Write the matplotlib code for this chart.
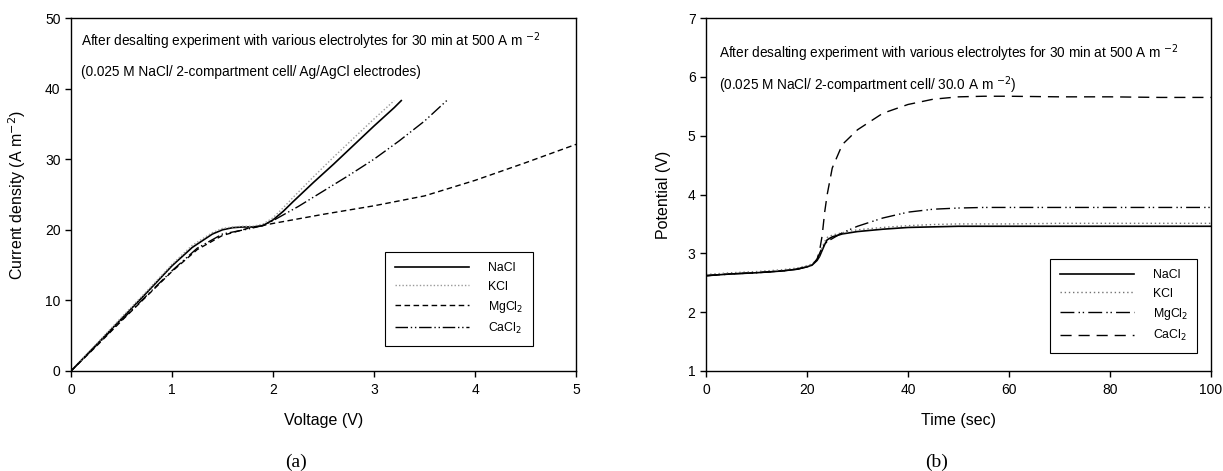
import numpy as np
import matplotlib
matplotlib.use('Agg')
import matplotlib.pyplot as plt

plt.rcParams['font.family'] = ['Liberation Sans', 'DejaVu Sans']

# (a) current density vs voltage
v_nacl = [0, 0.25, 0.5, 0.75, 1.0, 1.2, 1.4, 1.5, 1.6, 1.7, 1.8, 1.9, 2.0, 2.1, 2.2, 2.4, 2.6, 2.8, 3.0, 3.2, 3.27]
i_nacl = [0, 3.7, 7.4, 11.1, 14.9, 17.5, 19.4, 20.0, 20.3, 20.4, 20.4, 20.6, 21.4, 22.6, 24.0, 26.7, 29.3, 32.0, 34.7, 37.3, 38.3]
v_kcl = [0, 0.25, 0.5, 0.75, 1.0, 1.2, 1.4, 1.5, 1.6, 1.7, 1.8, 1.9, 2.0, 2.1, 2.2, 2.4, 2.6, 2.8, 3.0, 3.2]
i_kcl = [0, 3.8, 7.6, 11.3, 15.1, 17.8, 19.6, 20.2, 20.4, 20.5, 20.5, 20.8, 21.7, 23.1, 24.6, 27.5, 30.3, 33.0, 35.7, 38.3]
v_mg = [0, 0.25, 0.5, 0.75, 1.0, 1.25, 1.5, 1.75, 2.0, 2.5, 3.0, 3.5, 4.0, 4.5, 5.0]
i_mg = [0, 3.5, 7.1, 10.6, 14.1, 17.2, 19.2, 20.2, 20.9, 22.2, 23.4, 24.8, 27.0, 29.5, 32.1]
v_ca = [0, 0.25, 0.5, 0.75, 1.0, 1.25, 1.5, 1.75, 1.9, 2.0, 2.25, 2.5, 2.75, 3.0, 3.25, 3.5, 3.72]
i_ca = [0, 3.6, 7.2, 10.7, 14.2, 17.4, 19.4, 20.1, 20.6, 21.3, 23.3, 25.5, 27.7, 30.0, 32.6, 35.4, 38.3]

# (b) potential vs time
t = [0, 5, 10, 15, 18, 20, 21, 22, 22.5, 23, 23.5, 24, 25, 27, 30, 35, 40, 45, 50, 55, 60, 70, 80, 90, 100]
p_nacl = [2.62, 2.65, 2.67, 2.70, 2.73, 2.77, 2.80, 2.88, 2.95, 3.05, 3.15, 3.23, 3.28, 3.33, 3.37, 3.41, 3.44, 3.45, 3.46, 3.46, 3.46, 3.46, 3.46, 3.46, 3.46]
p_kcl = [2.64, 2.67, 2.69, 2.72, 2.75, 2.79, 2.82, 2.90, 2.98, 3.10, 3.20, 3.27, 3.31, 3.35, 3.40, 3.44, 3.47, 3.49, 3.50, 3.50, 3.50, 3.51, 3.51, 3.51, 3.51]
p_mg = [2.62, 2.65, 2.67, 2.70, 2.73, 2.77, 2.80, 2.90, 3.00, 3.10, 3.15, 3.20, 3.25, 3.35, 3.46, 3.60, 3.70, 3.75, 3.77, 3.78, 3.78, 3.78, 3.78, 3.78, 3.78]
p_ca = [2.62, 2.65, 2.67, 2.70, 2.73, 2.77, 2.80, 2.90, 3.05, 3.30, 3.70, 4.00, 4.45, 4.85, 5.10, 5.38, 5.53, 5.62, 5.66, 5.67, 5.67, 5.66, 5.66, 5.65, 5.65]

fig = plt.figure(figsize=(12.23, 4.71), dpi=100)
ax1 = fig.add_axes([71/1223, 100/471, 505/1223, 353/471])
ax2 = fig.add_axes([706/1223, 100/471, 505/1223, 353/471])

ax1.plot(v_nacl, i_nacl, color='black', lw=1.2, label='NaCl')
ax1.plot(v_kcl, i_kcl, color='0.6', lw=1.0, ls=(0, (1, 1.5)), label='KCl')
ax1.plot(v_mg, i_mg, color='black', lw=1.0, ls=(0, (4, 2.5)), label='MgCl$_2$')
ax1.plot(v_ca, i_ca, color='black', lw=1.0, ls=(0, (9, 2, 1, 2, 1, 2)), label='CaCl$_2$')

ax2.plot(t, p_nacl, color='black', lw=1.2, label='NaCl')
ax2.plot(t, p_kcl, color='0.45', lw=1.0, ls=(0, (1, 2)), label='KCl')
ax2.plot(t, p_mg, color='black', lw=1.0, ls=(0, (10, 3, 1, 2, 1, 3)), label='MgCl$_2$')
ax2.plot(t, p_ca, color='black', lw=1.0, ls=(0, (8, 5)), label='CaCl$_2$')

ax1.set_xlim(0, 5)
ax1.set_ylim(0, 50)
ax1.set_xticks([0, 1, 2, 3, 4, 5])
ax1.set_yticks([0, 10, 20, 30, 40, 50])
ax2.set_xlim(0, 100)
ax2.set_ylim(1, 7)
ax2.set_xticks([0, 20, 40, 60, 80, 100])
ax2.set_yticks([1, 2, 3, 4, 5, 6, 7])

for ax in (ax1, ax2):
    ax.tick_params(direction='out', length=4, width=1, labelsize=10)
    ax.tick_params(axis='x', pad=5)
    for s in ax.spines.values():
        s.set_linewidth(1.0)

ax1.set_xlabel('Voltage (V)', fontsize=11.5)
ax1.set_ylabel('Current density (A m$^{-2}$)', fontsize=11.5)
ax1.xaxis.set_label_coords(0.5, -0.12)
ax1.yaxis.set_label_coords(-0.085, 0.5)
ax2.set_xlabel('Time (sec)', fontsize=11.5)
ax2.set_ylabel('Potential (V)', fontsize=11.5)
ax2.xaxis.set_label_coords(0.5, -0.12)
ax2.yaxis.set_label_coords(-0.07, 0.5)

ax1.text(0.1, 46.7, 'After desalting experiment with various electrolytes for 30 min at 500 A m $^{-2}$',
         fontsize=9.8, va='center')
ax1.text(0.1, 42.3, '(0.025 M NaCl/ 2-compartment cell/ Ag/AgCl electrodes)', fontsize=9.8, va='center')
ax2.text(2.6, 6.4, 'After desalting experiment with various electrolytes for 30 min at 500 A m $^{-2}$',
         fontsize=9.8, va='center')
ax2.text(2.6, 5.86, '(0.025 M NaCl/ 2-compartment cell/ 30.0 A m $^{-2}$)', fontsize=9.8, va='center')

leg_kw = dict(loc='upper left', mode='expand', fontsize=8.8, handlelength=6.0, handletextpad=1.6,
              labelspacing=0.5, borderpad=0.85, borderaxespad=0, fancybox=False, framealpha=1,
              edgecolor='black')
l1 = ax1.legend(bbox_to_anchor=(0.622, 0.337, 0.293, 0), **leg_kw)
l2 = ax2.legend(bbox_to_anchor=(0.681, 0.317, 0.291, 0), **leg_kw)
for lg in (l1, l2):
    lg.get_frame().set_linewidth(0.8)

fig.text(296/1223, 1 - 462/471, '(a)', fontsize=14, family='Liberation Serif', ha='center', va='center')
fig.text(937/1223, 1 - 462/471, '(b)', fontsize=14, family='Liberation Serif', ha='center', va='center')

fig.savefig('out.png', dpi=100)
